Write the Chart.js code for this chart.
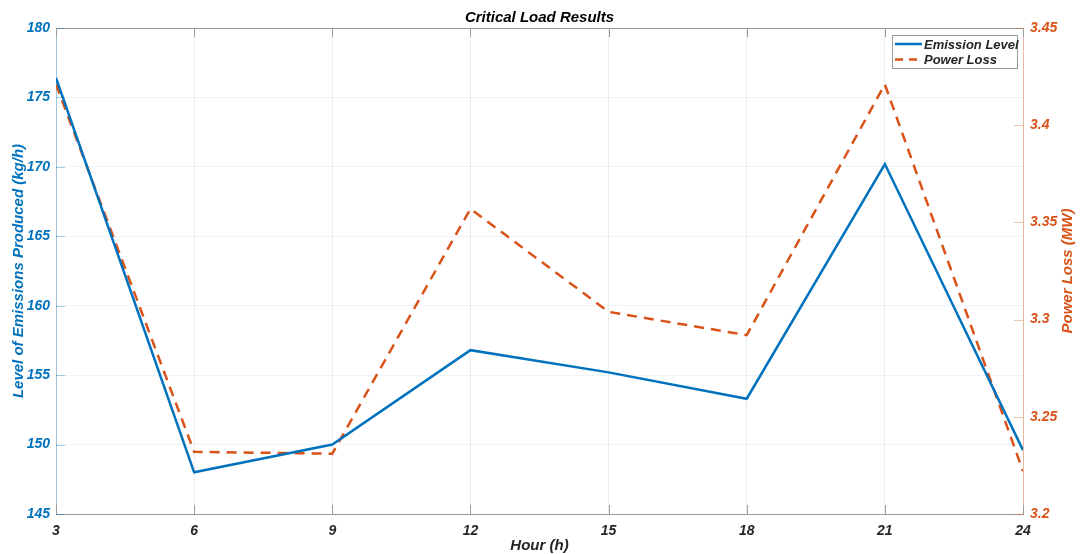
<!DOCTYPE html>
<html>
<head>
<meta charset="utf-8">
<title>Critical Load Results</title>
<script src="https://cdn.jsdelivr.net/npm/chart.js@4/dist/chart.umd.min.js"></script>
<style>
  html, body { margin: 0; padding: 0; background: #fff; }
  #wrap { width: 1080px; height: 554px; position: relative; }
</style>
</head>
<body>
<div id="wrap"><canvas id="chart-load"></canvas></div>
<script>
(function () {
  var hours = [3, 6, 9, 12, 15, 18, 21, 24];
  var emissionLevel = [176.4, 148.0, 150.0, 156.8, 155.2, 153.3, 170.2, 149.6];
  var powerLoss = [3.421, 3.232, 3.231, 3.357, 3.304, 3.292, 3.421, 3.222];
  var emissionTicks = [145, 150, 155, 160, 165, 170, 175, 180];
  var lossTicks = [3.2, 3.25, 3.3, 3.35, 3.4, 3.45];

  var colors = {
    blue: "#0072BD",
    orange: "#D95319",
    text: "#262626",
    frame: "#9a9a9a",
  };

  var FONT = "'Liberation Sans', Arial, Helvetica, sans-serif";
  var tickFont = { family: FONT, size: 14, weight: "bold", style: "italic" };
  var titleFont = { family: FONT, size: 15, weight: "bold", style: "italic" };

  function points(ys) {
    return hours.map(function (h, i) { return { x: h, y: ys[i] }; });
  }

  // title, frame, inward tick marks, right axis title and legend drawn like the MATLAB figure
  var matlabDecor = {
    id: "matlabDecor",
    afterDatasetsDraw: function (chart) {
      var ctx = chart.ctx;
      var a = chart.chartArea;
      var xs = chart.scales.x, yl = chart.scales.y, yr = chart.scales.y1;
      ctx.save();
      ctx.lineWidth = 1;

      ctx.strokeStyle = colors.frame;
      ctx.beginPath();
      ctx.moveTo(a.left, a.top + 0.5);
      ctx.lineTo(a.right, a.top + 0.5);
      ctx.stroke();

      hours.forEach(function (h) {
        var px = Math.round(xs.getPixelForValue(h)) + 0.5;
        ctx.beginPath();
        ctx.moveTo(px, a.bottom);
        ctx.lineTo(px, a.bottom - 9);
        ctx.moveTo(px, a.top);
        ctx.lineTo(px, a.top + 9);
        ctx.stroke();
      });

      ctx.strokeStyle = "rgba(0,114,189,0.35)";
      emissionTicks.forEach(function (v) {
        var py = Math.round(yl.getPixelForValue(v)) + 0.5;
        ctx.beginPath();
        ctx.moveTo(a.left, py);
        ctx.lineTo(a.left + 9, py);
        ctx.stroke();
      });

      ctx.strokeStyle = "rgba(217,83,25,0.35)";
      lossTicks.forEach(function (v) {
        var py = Math.round(yr.getPixelForValue(v)) + 0.5;
        ctx.beginPath();
        ctx.moveTo(a.right, py);
        ctx.lineTo(a.right - 9, py);
        ctx.stroke();
      });

      // title
      ctx.fillStyle = "#000";
      ctx.font = "italic bold 15px " + FONT;
      ctx.textAlign = "center";
      ctx.textBaseline = "middle";
      ctx.fillText("Critical Load Results", (a.left + a.right) / 2, 18);

      // right axis title, reading bottom to top
      ctx.save();
      ctx.translate(1068, (a.top + a.bottom) / 2);
      ctx.rotate(-Math.PI / 2);
      ctx.fillStyle = colors.orange;
      ctx.fillText("Power Loss (MW)", 0, 0);
      ctx.restore();

      // legend
      var lx = 892, ly = 35, lw = 125, lh = 33;
      ctx.fillStyle = "#fff";
      ctx.fillRect(lx, ly, lw, lh);
      ctx.strokeStyle = "#9a9a9a";
      ctx.strokeRect(lx + 0.5, ly + 0.5, lw, lh);
      var items = [
        { label: "Emission Level", color: colors.blue, dash: [] },
        { label: "Power Loss", color: colors.orange, dash: [8, 6] },
      ];
      ctx.font = "italic bold 13px " + FONT;
      ctx.textAlign = "left";
      items.forEach(function (it, i) {
        var y = ly + 9 + i * 15.5;
        ctx.strokeStyle = it.color;
        ctx.lineWidth = 2.5;
        ctx.setLineDash(it.dash);
        ctx.beginPath();
        ctx.moveTo(lx + 3, y);
        ctx.lineTo(lx + 30, y);
        ctx.stroke();
        ctx.setLineDash([]);
        ctx.fillStyle = colors.text;
        ctx.fillText(it.label, lx + 32, y + 1);
      });
      ctx.restore();
    },
  };

  new Chart(document.getElementById("chart-load"), {
    type: "line",
    data: {
      datasets: [
        {
          label: "Emission Level",
          data: points(emissionLevel),
          yAxisID: "y",
          borderColor: colors.blue,
          borderWidth: 2.5,
          pointRadius: 0,
          tension: 0,
        },
        {
          label: "Power Loss",
          data: points(powerLoss),
          yAxisID: "y1",
          borderColor: colors.orange,
          borderWidth: 2.5,
          borderDash: [10, 7],
          pointRadius: 0,
          tension: 0,
        },
      ],
    },
    options: {
      responsive: true,
      maintainAspectRatio: false,
      animation: false,
      layout: { padding: { top: 28, left: 0, right: 0, bottom: 0 } },
      plugins: {
        legend: { display: false },
        tooltip: { enabled: false },
        title: { display: false },
      },
      scales: {
        x: {
          type: "linear",
          min: 3,
          max: 24,
          afterBuildTicks: function (s) {
            s.ticks = hours.map(function (v) { return { value: v }; });
          },
          afterFit: function (s) { s.height = 40; },
          grid: { color: "rgba(0,0,0,0.07)", drawTicks: false },
          border: { color: colors.frame },
          ticks: { font: tickFont, color: colors.text, padding: 9, maxRotation: 0 },
          title: {
            display: true,
            text: "Hour (h)",
            font: titleFont,
            color: colors.text,
            padding: { top: 0, bottom: -1 },
          },
        },
        y: {
          position: "left",
          min: 145,
          max: 180,
          afterBuildTicks: function (s) {
            s.ticks = emissionTicks.map(function (v) { return { value: v }; });
          },
          afterFit: function (s) { s.width = 56; },
          grid: { color: "rgba(0,114,189,0.07)", drawTicks: false },
          border: { color: "rgba(0,114,189,0.35)" },
          ticks: { font: tickFont, color: colors.blue, padding: 6 },
          title: {
            display: true,
            text: "Level of Emissions Produced (kg/h)",
            font: titleFont,
            color: colors.blue,
            padding: { top: 10, bottom: 0 },
          },
        },
        y1: {
          position: "right",
          min: 3.2,
          max: 3.45,
          afterBuildTicks: function (s) {
            s.ticks = lossTicks.map(function (v) { return { value: v }; });
          },
          afterFit: function (s) { s.width = 57; },
          grid: { display: false, drawTicks: false },
          border: { color: "rgba(217,83,25,0.35)" },
          ticks: {
            font: tickFont,
            color: colors.orange,
            padding: 7,
            callback: function (v) { return String(v); },
          },
          title: { display: false },
        },
      },
    },
    plugins: [matlabDecor],
  });
})();
</script>
</body>
</html>
